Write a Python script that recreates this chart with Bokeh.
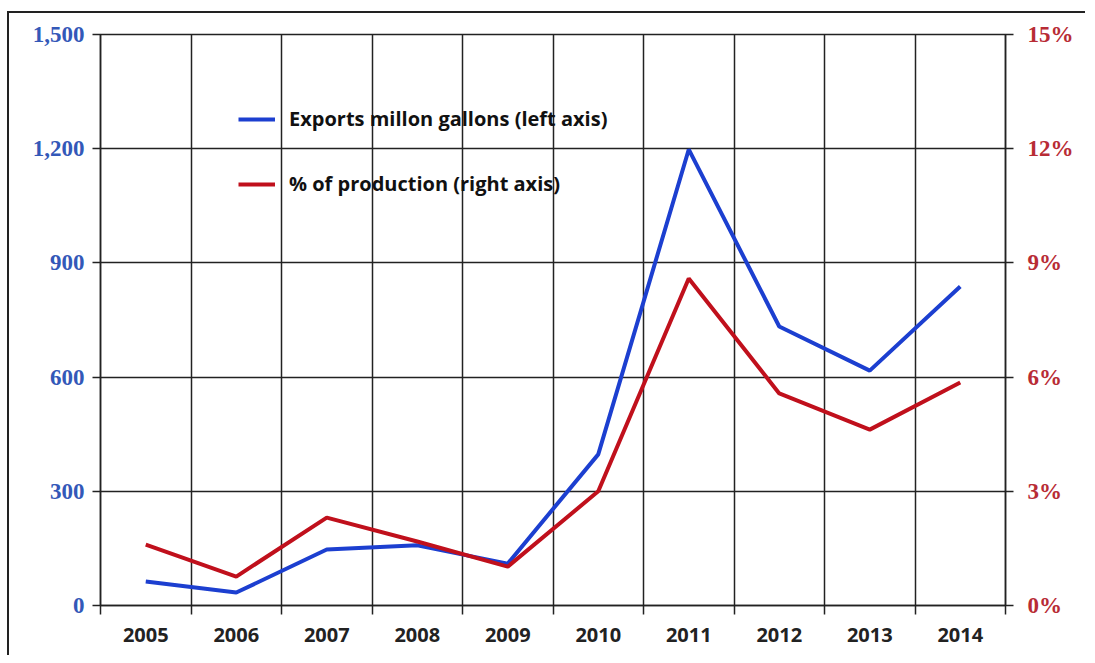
from bokeh.plotting import figure
from bokeh.models import (Range1d, LinearAxis, FixedTicker, NumeralTickFormatter,
                          PrintfTickFormatter, Legend, LegendItem, ColumnDataSource)
from bokeh.embed import file_html
from bokeh.resources import INLINE

years = ["2005", "2006", "2007", "2008", "2009", "2010", "2011", "2012", "2013", "2014"]
exports = [63, 34, 147, 158, 110, 397, 1198, 733, 617, 838]
pct_production = [1.60, 0.76, 2.31, 1.68, 1.02, 3.00, 8.59, 5.57, 4.62, 5.86]
left_ticks = [0, 300, 600, 900, 1200, 1500]
right_ticks = [0, 3, 6, 9, 12, 15]

centers = [i + 0.5 for i in range(len(years))]
bounds = [float(i) for i in range(len(years) + 1)]

src = ColumnDataSource(dict(x=centers, exp=exports, pct=pct_production))

BLUE = "#1c3fd0"
RED = "#c0101c"
GRID = "#222222"

p = figure(width=1078, height=644, output_backend="svg", toolbar_location=None,
           x_range=Range1d(0, len(years)), y_range=Range1d(0, 1500),
           min_border_left=91, min_border_right=82, min_border_top=21, min_border_bottom=52)
p.styles = {"border-left": "2px solid #222", "border-top": "2px solid #222",
            "margin-top": "11px", "margin-left": "7px"}
p.extra_y_ranges = {"pct": Range1d(0, 15)}

p.outline_line_color = GRID
p.outline_line_width = 1.5
p.background_fill_color = "white"
p.border_fill_color = "white"

# x axis
xa = p.xaxis[0]
xa.ticker = FixedTicker(ticks=centers, minor_ticks=bounds)
xa.major_label_overrides = {c: y for c, y in zip(centers, years)}
xa.major_tick_line_color = None
xa.minor_tick_in = 0
xa.minor_tick_out = 9
xa.minor_tick_line_color = GRID
xa.minor_tick_line_width = 1.5
xa.axis_line_color = GRID
xa.axis_line_width = 1.5
xa.major_label_text_font = "Open Sans"
xa.major_label_text_font_style = "bold"
xa.major_label_text_font_size = "20px"
xa.major_label_text_color = "#222222"
xa.major_label_standoff = 13

# left axis
ya = p.yaxis[0]
ya.ticker = FixedTicker(ticks=left_ticks)
ya.formatter = NumeralTickFormatter(format="0,0")
ya.minor_tick_line_color = None
ya.major_tick_in = 0
ya.major_tick_out = 8
ya.major_tick_line_color = GRID
ya.major_tick_line_width = 1.5
ya.axis_line_color = GRID
ya.axis_line_width = 1.5
ya.major_label_text_font = "Liberation Serif"
ya.major_label_text_font_style = "bold"
ya.major_label_text_font_size = "23px"
ya.major_label_text_color = "#3358b8"
ya.major_label_standoff = 8

# right axis
ra = LinearAxis(y_range_name="pct", ticker=FixedTicker(ticks=right_ticks),
                formatter=PrintfTickFormatter(format="%d%%"))
ra.minor_tick_line_color = None
ra.major_tick_in = 0
ra.major_tick_out = 8
ra.major_tick_line_color = GRID
ra.major_tick_line_width = 1.5
ra.axis_line_color = GRID
ra.axis_line_width = 1.5
ra.major_label_text_font = "Liberation Serif"
ra.major_label_text_font_style = "bold"
ra.major_label_text_font_size = "23px"
ra.major_label_text_color = "#b82c35"
ra.major_label_standoff = 14
p.add_layout(ra, "right")

# grids
p.xgrid.ticker = FixedTicker(ticks=bounds)
p.ygrid.ticker = FixedTicker(ticks=left_ticks)
for g in (p.xgrid[0], p.ygrid[0]):
    g.grid_line_color = GRID
    g.grid_line_width = 1.5
    g.grid_line_alpha = 1.0

r1 = p.line("x", "exp", source=src, line_color=BLUE, line_width=4)
r2 = p.line("x", "pct", source=src, y_range_name="pct", line_color=RED, line_width=4)

legend = Legend(items=[LegendItem(label="Exports millon gallons (left axis)", renderers=[r1]),
                       LegendItem(label="% of production (right axis)", renderers=[r2])],
                location=(138, 408), orientation="vertical")
legend.background_fill_alpha = 0
legend.border_line_color = None
legend.padding = 0
legend.margin = 0
legend.spacing = 38
legend.label_height = 22
legend.glyph_height = 22
legend.glyph_width = 37
legend.label_standoff = 14
legend.label_text_font = "Open Sans"
legend.label_text_font_style = "bold"
legend.label_text_font_size = "20px"
legend.label_text_color = "#111111"
p.add_layout(legend, "center")

open("out.html", "w").write(file_html(p, INLINE))
